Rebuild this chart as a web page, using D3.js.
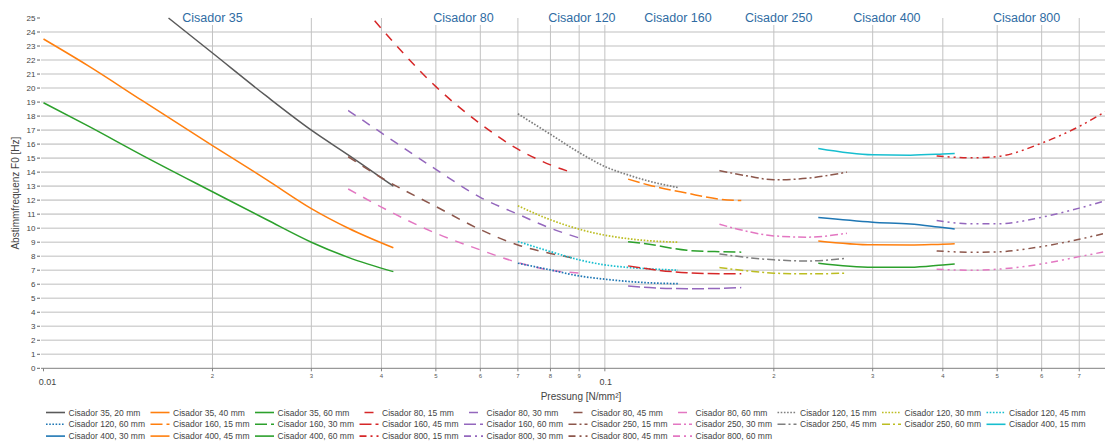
<!DOCTYPE html>
<html>
<head>
<meta charset="utf-8">
<script src="https://cdn.jsdelivr.net/npm/d3@7"></script>
<style>
  body { margin: 0; background: #fff; }
  svg { font-family: "Liberation Sans", Arial, sans-serif; }
</style>
</head>
<body>
<svg id="chart" width="1105" height="441"></svg>
<script>
// section titles above the chart and where they sit (pressure)
const groups = ['Cisador 35', 'Cisador 80', 'Cisador 120', 'Cisador 160', 'Cisador 250', 'Cisador 400', 'Cisador 800'];
const titleX = [0.02, 0.056, 0.091, 0.135, 0.204, 0.318, 0.564];

const yTicks = d3.range(0, 26);
const xMinorTicks = [0.02, 0.03, 0.04, 0.05, 0.06, 0.07, 0.08, 0.09, 0.2, 0.3, 0.4, 0.5, 0.6, 0.7];
const xMinorLabels = ['2', '3', '4', '5', '6', '7', '8', '9', '2', '3', '4', '5', '6', '7'];
const xMajorTicks = [0.01, 0.1];
const xMajorLabels = ['0.01', '0.1'];

// Cisador 35
const p35a = [0.0167, 0.02, 0.025, 0.03, 0.035, 0.042];
const f35_20 = [25.0, 22.5, 19.4, 17.0, 15.2, 13.0];
const p35b = [0.01, 0.012, 0.015, 0.02, 0.025, 0.03, 0.035, 0.042];
const f35_40 = [23.5, 21.6, 19.1, 15.9, 13.45, 11.4, 9.98, 8.6];
const f35_60 = [18.95, 17.3, 15.2, 12.6, 10.6, 9.0, 7.9, 6.9];

// Cisador 80
const p80a = [0.0389, 0.05, 0.06, 0.07, 0.08, 0.087];
const f80_15 = [24.8, 20.1, 17.45, 15.64, 14.52, 14.0];
const p80b = [0.0349, 0.04, 0.05, 0.06, 0.07, 0.08, 0.09];
const f80_30 = [18.4, 16.8, 14.2, 12.2, 11.0, 10.0, 9.3];
const f80_45 = [15.1, 13.6, 11.55, 9.9, 8.8, 8.2, 7.8];
const f80_60 = [12.8, 11.5, 9.64, 8.45, 7.55, 7.0, 6.8];

// Cisador 120
const p120 = [0.07, 0.08, 0.09, 0.1, 0.11, 0.12, 0.135];
const f120_15 = [18.16, 16.7, 15.4, 14.4, 13.8, 13.35, 12.9];
const f120_30 = [11.6, 10.6, 9.93, 9.5, 9.25, 9.1, 9.0];
const f120_45 = [9.05, 8.33, 7.74, 7.38, 7.2, 7.1, 7.0];
const f120_60 = [7.5, 7.02, 6.59, 6.36, 6.2, 6.1, 6.04];

// Cisador 160
const p160 = [0.11, 0.12, 0.14, 0.16, 0.175];
const f160_15 = [13.5, 13.07, 12.5, 12.07, 11.97];
const f160_30 = [9.04, 8.85, 8.42, 8.32, 8.29];
const f160_45 = [7.31, 7.08, 6.82, 6.75, 6.74];
const f160_60 = [5.88, 5.76, 5.68, 5.7, 5.76];

// Cisador 250
const p250 = [0.16, 0.18, 0.2, 0.23, 0.27];
const f250_15 = [14.11, 13.72, 13.45, 13.57, 14.0];
const f250_30 = [10.28, 9.76, 9.45, 9.36, 9.64];
const f250_45 = [8.16, 7.9, 7.74, 7.66, 7.86];
const f250_60 = [7.19, 6.95, 6.79, 6.74, 6.79];

// Cisador 400
const p400 = [0.24, 0.3, 0.35, 0.4, 0.42];
const f400_15 = [15.69, 15.24, 15.21, 15.29, 15.33];
const f400_30 = [10.76, 10.43, 10.29, 10.04, 9.95];
const f400_45 = [9.09, 8.81, 8.8, 8.86, 8.88];
const f400_60 = [7.5, 7.21, 7.21, 7.38, 7.45];

// Cisador 800
const p800 = [0.39, 0.45, 0.5, 0.6, 0.7, 0.78];
const f800_15 = [15.16, 15.02, 15.11, 16.07, 17.26, 18.33];
const f800_30 = [10.55, 10.31, 10.31, 10.78, 11.43, 11.97];
const f800_45 = [8.38, 8.28, 8.31, 8.69, 9.21, 9.64];
const f800_60 = [7.07, 7.0, 7.07, 7.45, 7.97, 8.33];

// table of all series (name, group index, x values, y values)
const series = [
  ['Cisador 35, 20 mm', 0, p35a, f35_20],
  ['Cisador 35, 40 mm', 0, p35b, f35_40],
  ['Cisador 35, 60 mm', 0, p35b, f35_60],
  ['Cisador 80, 15 mm', 1, p80a, f80_15],
  ['Cisador 80, 30 mm', 1, p80b, f80_30],
  ['Cisador 80, 45 mm', 1, p80b, f80_45],
  ['Cisador 80, 60 mm', 1, p80b, f80_60],
  ['Cisador 120, 15 mm', 2, p120, f120_15],
  ['Cisador 120, 30 mm', 2, p120, f120_30],
  ['Cisador 120, 45 mm', 2, p120, f120_45],
  ['Cisador 120, 60 mm', 2, p120, f120_60],
  ['Cisador 160, 15 mm', 3, p160, f160_15],
  ['Cisador 160, 30 mm', 3, p160, f160_30],
  ['Cisador 160, 45 mm', 3, p160, f160_45],
  ['Cisador 160, 60 mm', 3, p160, f160_60],
  ['Cisador 250, 15 mm', 4, p250, f250_15],
  ['Cisador 250, 30 mm', 4, p250, f250_30],
  ['Cisador 250, 45 mm', 4, p250, f250_45],
  ['Cisador 250, 60 mm', 4, p250, f250_60],
  ['Cisador 400, 15 mm', 5, p400, f400_15],
  ['Cisador 400, 30 mm', 5, p400, f400_30],
  ['Cisador 400, 45 mm', 5, p400, f400_45],
  ['Cisador 400, 60 mm', 5, p400, f400_60],
  ['Cisador 800, 15 mm', 6, p800, f800_15],
  ['Cisador 800, 30 mm', 6, p800, f800_30],
  ['Cisador 800, 45 mm', 6, p800, f800_45],
  ['Cisador 800, 60 mm', 6, p800, f800_60]
].map((d, i) => ({ name: d[0], group: d[1], values: d[2].map((p, j) => ({ p: p, f: d[3][j] })), i: i }));

// line styles per group
const dashes = [null, '9,8', '1.6,1.6', '12,4', '8,3,2,3', null, '7,4,2,4,2,4'];
const color = i => i === 0 ? '#5a5a5a' : d3.schemeCategory10[i % 10];

const svg = d3.select('#chart');
const plotLeft = 41, plotRight = 1105, plotTop = 18, plotBottom = 368.3;

const x = d3.scaleLog().domain([0.01, 0.778]).range([43.5, 1105]);
const y = d3.scaleLinear().domain([0, 25]).range([plotBottom, plotTop]);

// horizontal grid
svg.append('g').selectAll('line').data(yTicks.filter(v => v > 0 && v < 25))
  .enter().append('line')
  .attr('x1', plotLeft).attr('x2', plotRight)
  .attr('y1', d => y(d)).attr('y2', d => y(d))
  .attr('stroke', '#d4d4d4').attr('stroke-width', 1.6);

// vertical grid
const vTicks = xMinorTicks.concat([0.1]);
svg.append('g').selectAll('line').data(vTicks)
  .enter().append('line')
  .attr('x1', d => x(d)).attr('x2', d => x(d))
  .attr('y1', plotTop).attr('y2', plotBottom)
  .attr('stroke', '#c2c2c2').attr('stroke-width', 1);

// group titles with white background
const tg = svg.append('g');
groups.forEach((g, i) => {
  const t = tg.append('text')
    .attr('x', x(titleX[i])).attr('y', 22)
    .attr('text-anchor', 'middle')
    .attr('font-size', 12.5)
    .attr('fill', '#2f6ca3')
    .text(g);
  const bb = t.node().getBBox();
  tg.insert('rect', 'text')
    .attr('x', bb.x - 2).attr('y', 8)
    .attr('width', bb.width + 4).attr('height', 17)
    .attr('fill', '#fff');
});

// x axis line and ticks
svg.append('line')
  .attr('x1', plotLeft).attr('x2', plotRight)
  .attr('y1', plotBottom).attr('y2', plotBottom)
  .attr('stroke', '#808080').attr('stroke-width', 1);

const xt = svg.append('g');
xt.selectAll('line').data(xMinorTicks.concat(xMajorTicks))
  .enter().append('line')
  .attr('x1', d => x(d)).attr('x2', d => x(d))
  .attr('y1', plotBottom).attr('y2', plotBottom + 3)
  .attr('stroke', '#808080');
xt.selectAll('text.minor').data(xMinorTicks)
  .enter().append('text').attr('class', 'minor')
  .attr('x', d => x(d)).attr('y', plotBottom + 10)
  .attr('text-anchor', 'middle')
  .attr('font-size', 6).attr('fill', '#555')
  .text((d, i) => xMinorLabels[i]);
xt.selectAll('text.major').data(xMajorTicks)
  .enter().append('text').attr('class', 'major')
  .attr('x', (d, i) => x(d) + (i === 0 ? 4 : 1)).attr('y', plotBottom + 16.5)
  .attr('text-anchor', 'middle')
  .attr('font-size', 9).attr('fill', '#444')
  .text((d, i) => xMajorLabels[i]);

// y ticks
const yt = svg.append('g');
yt.selectAll('text').data(yTicks)
  .enter().append('text')
  .attr('x', 35.5).attr('y', d => y(d) + 3)
  .attr('text-anchor', 'end')
  .attr('font-size', 8).attr('fill', '#444')
  .text(d => d);
yt.selectAll('line').data(yTicks)
  .enter().append('line')
  .attr('x1', 37).attr('x2', 40)
  .attr('y1', d => y(d)).attr('y2', d => y(d))
  .attr('stroke', '#666');

// axis titles
svg.append('text')
  .attr('transform', 'translate(19,' + ((plotTop + plotBottom) / 2) + ') rotate(-90)')
  .attr('text-anchor', 'middle')
  .attr('font-size', 10).attr('fill', '#444')
  .text('Abstimmfrequenz F0 [Hz]');
svg.append('text')
  .attr('x', 581).attr('y', 400)
  .attr('text-anchor', 'middle')
  .attr('font-size', 10).attr('fill', '#444')
  .text('Pressung [N/mm²]');

// curves
svg.append('clipPath').attr('id', 'clip')
  .append('rect').attr('x', plotLeft).attr('y', 0).attr('width', plotRight - plotLeft).attr('height', plotBottom);

const line = d3.line()
  .x(d => x(d.p))
  .y(d => y(d.f))
  .curve(d3.curveMonotoneX);

svg.append('g').attr('clip-path', 'url(#clip)')
  .selectAll('path').data(series)
  .enter().append('path')
  .attr('d', d => line(d.values))
  .attr('fill', 'none')
  .attr('stroke', d => color(d.i))
  .attr('stroke-width', d => d.group === 2 ? 1.7 : 1.5)
  .attr('stroke-dasharray', d => dashes[d.group]);

// legend
const lg = svg.append('g');
const legendItems = lg.selectAll('g').data(series)
  .enter().append('g')
  .attr('transform', d => 'translate(' + (46 + (d.i % 10) * 104.5) + ',' + (412.5 + Math.floor(d.i / 10) * 11.8) + ')');
legendItems.append('line')
  .attr('x1', 0).attr('x2', 19)
  .attr('stroke', d => color(d.i))
  .attr('stroke-width', 1.6)
  .attr('stroke-dasharray', d => d.group === 1 ? '0,5,9,5' : dashes[d.group]);
legendItems.append('text')
  .attr('x', 22.5).attr('y', 3)
  .attr('font-size', 8.5).attr('fill', '#444')
  .text(d => d.name);
</script>
</body>
</html>
